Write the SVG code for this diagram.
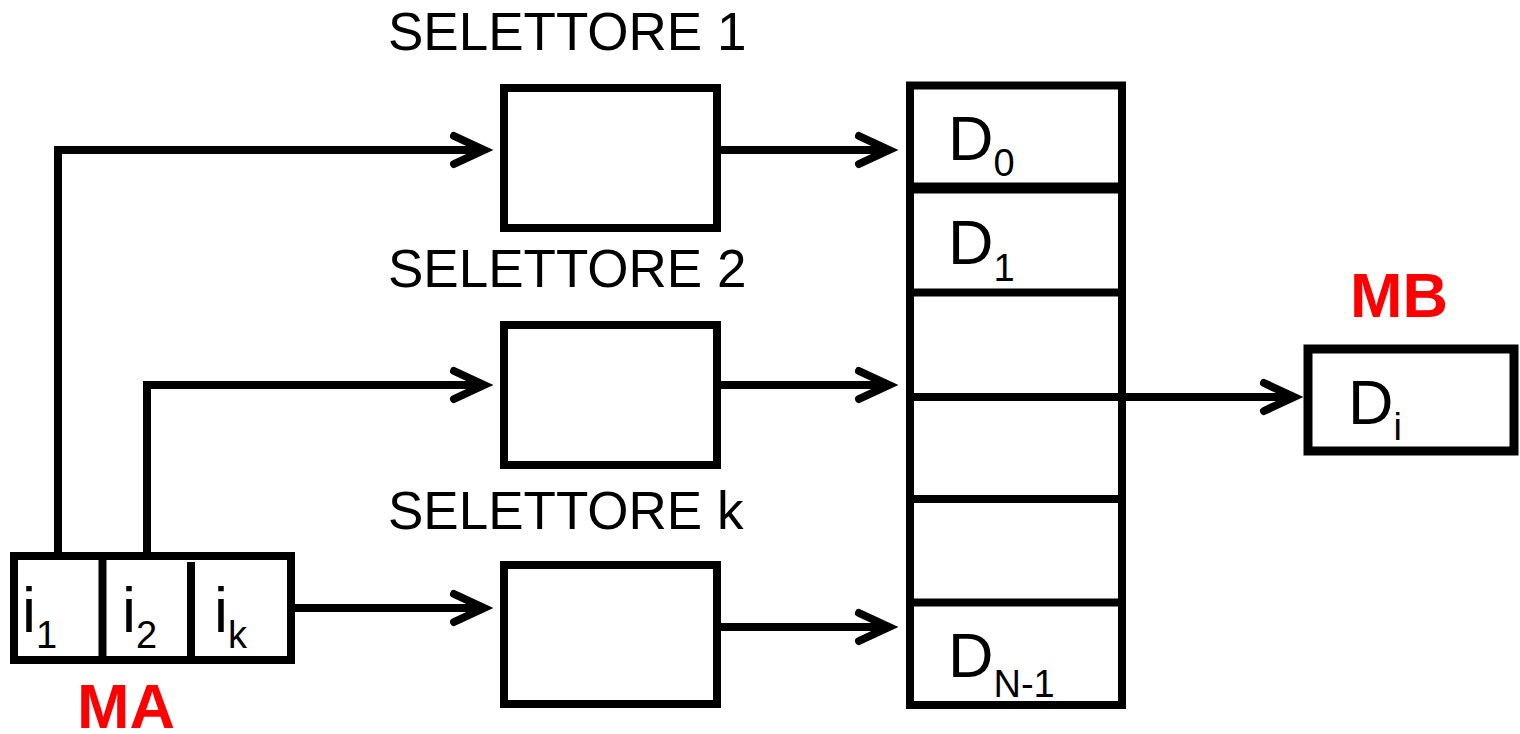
<svg xmlns="http://www.w3.org/2000/svg" width="1520" height="734" viewBox="0 0 1520 734">
<defs>
<style>
.box{fill:#fff;stroke:#000;stroke-width:8}
.div{stroke:#000;stroke-width:8;fill:none}
.con{fill:none;stroke:#000;stroke-width:8;stroke-linejoin:miter}
.t{font-family:"Liberation Sans",Arial,sans-serif;fill:#000}
.sel{font-size:53px}
.big{font-size:63px}
.sub{font-size:38px}
.red{font-family:"Liberation Sans",Arial,sans-serif;font-weight:bold;font-size:63px;fill:#ff0000}
</style>
<marker id="arr" viewBox="-40 -20 50 40" refX="0" refY="0" markerWidth="50" markerHeight="40" markerUnits="userSpaceOnUse" orient="auto">
<path d="M-30,-14 L0,0 L-30,14" fill="none" stroke="#000" stroke-width="8" stroke-linecap="round" stroke-linejoin="miter"/>
</marker>
</defs>
<rect width="1520" height="734" fill="#fff"/>

<g id="connectors">
<path class="con" d="M58,556 V150 H484" marker-end="url(#arr)"/>
<path class="con" d="M147,556 V385 H484" marker-end="url(#arr)"/>
<path class="con" d="M291,608 H484" marker-end="url(#arr)"/>
<path class="con" d="M717,150 H889" marker-end="url(#arr)"/>
<path class="con" d="M717,385 H889" marker-end="url(#arr)"/>
<path class="con" d="M717,627 H889" marker-end="url(#arr)"/>
<path class="con" d="M1122,397 H1294" marker-end="url(#arr)"/>
</g>

<g id="selettore1">
<text class="t sel" x="388" y="50">SELETTORE 1</text>
<rect class="box" x="504" y="88" width="213" height="140"/>
</g>
<g id="selettore2">
<text class="t sel" x="388" y="287">SELETTORE 2</text>
<rect class="box" x="504" y="325" width="213" height="140"/>
</g>
<g id="selettorek">
<text class="t sel" x="388" y="529">SELETTORE k</text>
<rect class="box" x="504" y="565" width="213" height="139"/>
</g>

<g id="memoria">
<rect class="box" x="910" y="85.5" width="212" height="619.5"/>
<line class="div" x1="910" y1="188" x2="1122" y2="188" style="stroke-width:11"/>
<line class="div" x1="910" y1="292.5" x2="1122" y2="292.5"/>
<line class="div" x1="910" y1="397" x2="1122" y2="397"/>
<line class="div" x1="910" y1="499" x2="1122" y2="499"/>
<line class="div" x1="910" y1="602.5" x2="1122" y2="602.5"/>
<text class="t big" x="948" y="160">D<tspan class="sub" dy="16">0</tspan></text>
<text class="t big" x="948" y="264">D<tspan class="sub" dy="17">1</tspan></text>
<text class="t big" x="948" y="677">D<tspan class="sub" dy="20">N-1</tspan></text>
</g>

<g id="MB">
<text class="red" x="1350" y="317">MB</text>
<rect class="box" x="1308" y="349" width="206" height="102" style="stroke-width:9"/>
<text class="t big" x="1348" y="424">D<tspan class="sub" dy="16">i</tspan></text>
</g>

<g id="MA">
<rect class="box" x="14" y="556" width="277" height="104"/>
<line class="div" x1="102.5" y1="556" x2="102.5" y2="660"/>
<line class="div" x1="191" y1="562" x2="191" y2="660"/>
<text class="t big" x="22" y="632">i<tspan class="sub" dy="16">1</tspan></text>
<text class="t big" x="122" y="632">i<tspan class="sub" dy="16">2</tspan></text>
<text class="t big" x="214" y="632">i<tspan class="sub" dy="16">k</tspan></text>
<text class="red" x="77" y="728">MA</text>
</g>
</svg>
